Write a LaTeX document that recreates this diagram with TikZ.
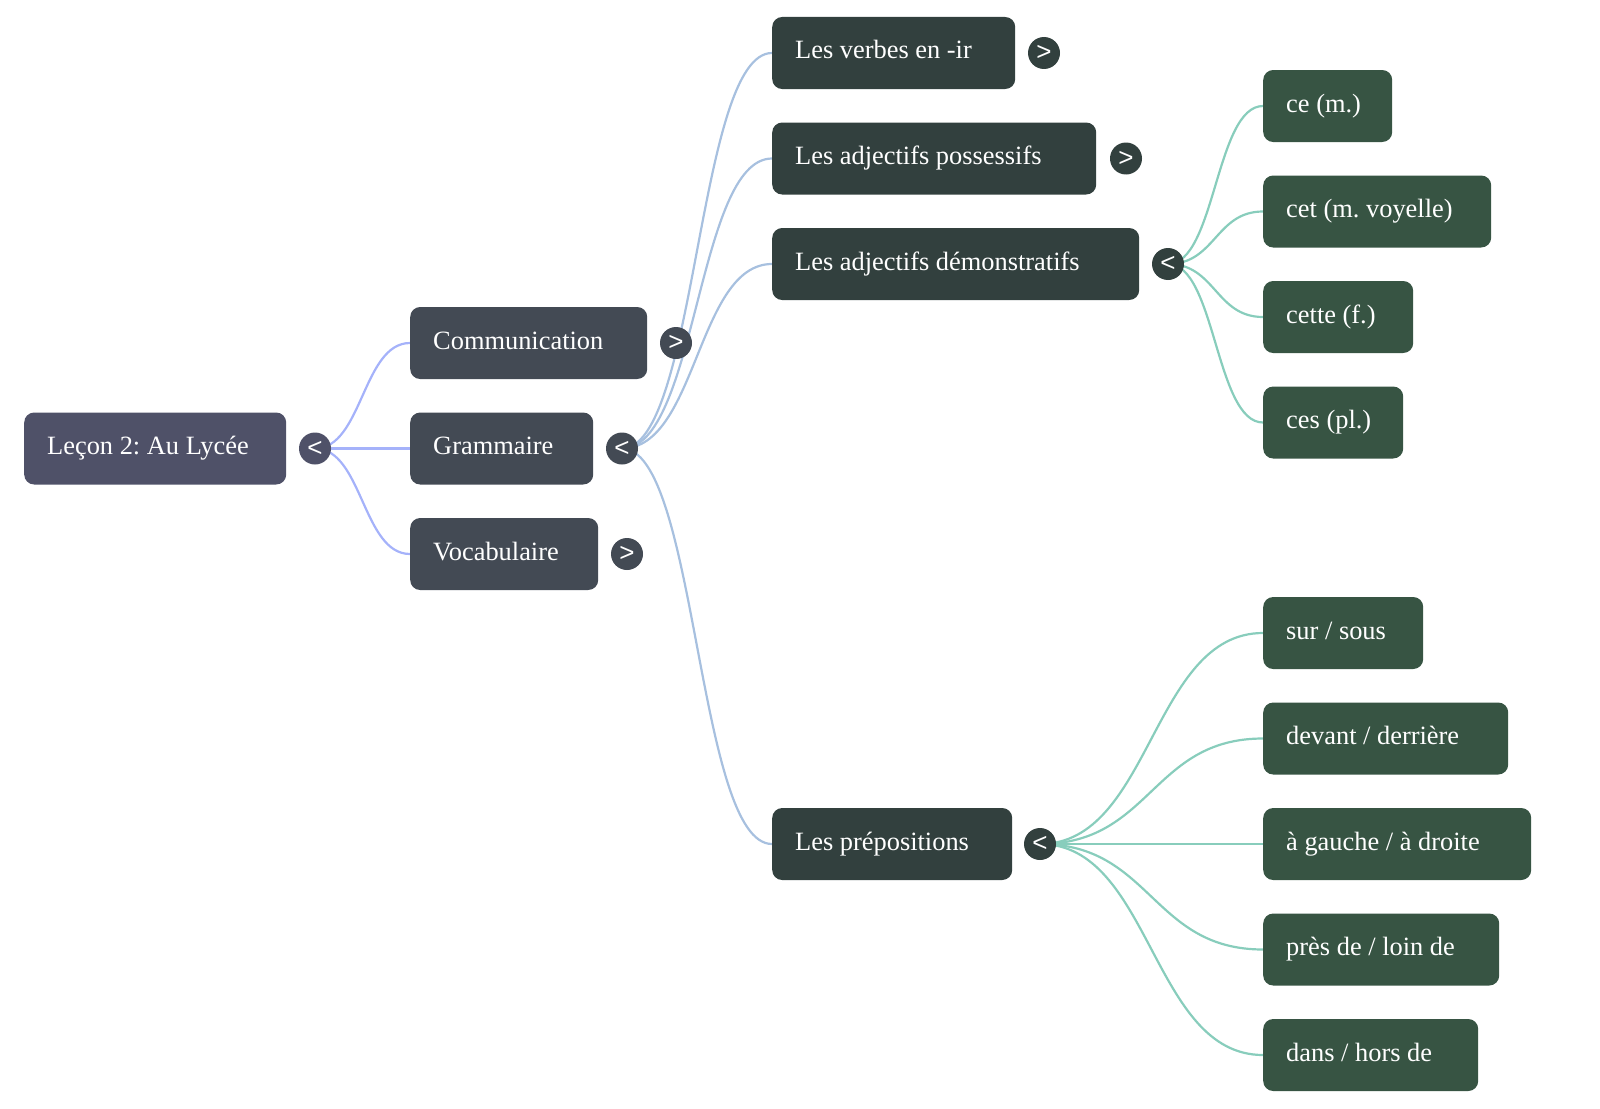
\documentclass[tikz,border=0pt]{standalone}
\usepackage{fontspec}
\setmainfont{Liberation Serif}
\newfontfamily\symfont{Liberation Sans}
\usetikzlibrary{calc}
\setlength\parindent{0pt}
\frenchspacing
\pgfdeclarelayer{bg}
\pgfsetlayers{bg,main}
\definecolor{rootfill}{HTML}{4F5168}
\definecolor{lvlone}{HTML}{434A54}
\definecolor{lvltwo}{HTML}{32403E}
\definecolor{leaffill}{HTML}{375443}
\definecolor{edgeroot}{HTML}{A5B2FA}
\definecolor{edgegram}{HTML}{A7C0DF}
\definecolor{edgeleaf}{HTML}{88CDBC}
\tikzset{
  box/.style={rounded corners=10pt, anchor=west, minimum height=72pt,
    inner xsep=23pt, align=flush left, text=white,
    font=\frenchspacing\fontsize{26.4}{30}\selectfont, text height=19pt, text depth=7pt},
  bw/.style={text width=#1pt-46pt},
  rootbox/.style={box, fill=rootfill},
  onebox/.style={box, fill=lvlone},
  twobox/.style={box, fill=lvltwo},
  leafbox/.style={box, fill=leaffill},
  knob/.style={circle, fill=#1, minimum size=32pt, inner sep=0pt, text=white,
    font=\symfont\fontsize{26}{26}\selectfont},
  link/.style={to path={let \p1=(\tikztostart), \p2=(\tikztotarget) in
    .. controls ({(\x1+\x2)/2},\y1) and ({(\x1+\x2)/2},\y2) .. (\tikztotarget)}},
  eroot/.style={draw=edgeroot, line width=2.2pt},
  egram/.style={draw=edgegram, line width=2.2pt},
  eleaf/.style={draw=edgeleaf, line width=2.2pt},
}
\begin{document}
\begin{tikzpicture}[x=1pt,y=-1pt]
\useasboundingbox (0,0) rectangle (1600,1108);
% root
\node[rootbox, bw=262] (root) at (24,448.5) {Leçon 2: Au Lycée};
\node[knob=rootfill] (rk) at (315,448.5) {<};
% level 1
\node[onebox, bw=237] (comm) at (410,343) {Communication};
\node[knob=lvlone] (ck) at (676,343) {>};
\node[onebox, bw=183] (gram) at (410,448.5) {Grammaire};
\node[knob=lvlone] (gk) at (622,448.5) {<};
\node[onebox, bw=188] (voc) at (410,554) {Vocabulaire};
\node[knob=lvlone] (vk) at (627,554) {>};
% level 2
\node[twobox, bw=243] (verb) at (772,53) {Les verbes en -ir};
\node[knob=lvltwo] (verbk) at (1044,53) {>};
\node[twobox, bw=324] (poss) at (772,158.5) {Les adjectifs possessifs};
\node[knob=lvltwo] (possk) at (1126,158.5) {>};
\node[twobox, bw=367] (dem) at (772,264) {Les adjectifs démonstratifs};
\node[knob=lvltwo] (demk) at (1168,264) {<};
\node[twobox, bw=240] (prep) at (772,844) {Les prépositions};
\node[knob=lvltwo] (prepk) at (1040,844) {<};
% leaves
\node[leafbox, bw=129] (ce) at (1263,106) {ce (m.)};
\node[leafbox, bw=228] (cet) at (1263,211.5) {cet (m. voyelle)};
\node[leafbox, bw=150] (cette) at (1263,317) {cette (f.)};
\node[leafbox, bw=140] (ces) at (1263,422.5) {ces (pl.)};
\node[leafbox, bw=160] (sur) at (1263,633) {sur / sous};
\node[leafbox, bw=245] (dev) at (1263,738.5) {devant / derrière};
\node[leafbox, bw=268] (gau) at (1263,844) {à gauche / à droite};
\node[leafbox, bw=236] (pres) at (1263,949.5) {près de / loin de};
\node[leafbox, bw=215] (dans) at (1263,1055) {dans / hors de};
% connectors
\begin{pgfonlayer}{bg}
\draw[eroot] (rk.center) to[link] (comm.west);
\draw[eroot] (rk.center) to[link] (gram.west);
\draw[eroot] (rk.center) to[link] (voc.west);
\draw[egram] (gk.center) to[link] (verb.west);
\draw[egram] (gk.center) to[link] (poss.west);
\draw[egram] (gk.center) to[link] (dem.west);
\draw[egram] (gk.center) to[link] (prep.west);
\draw[eleaf] (demk.center) to[link] (ce.west);
\draw[eleaf] (demk.center) to[link] (cet.west);
\draw[eleaf] (demk.center) to[link] (cette.west);
\draw[eleaf] (demk.center) to[link] (ces.west);
\draw[eleaf] (prepk.center) to[link] (sur.west);
\draw[eleaf] (prepk.center) to[link] (dev.west);
\draw[eleaf] (prepk.center) to[link] (gau.west);
\draw[eleaf] (prepk.center) to[link] (pres.west);
\draw[eleaf] (prepk.center) to[link] (dans.west);
\end{pgfonlayer}
\end{tikzpicture}
\end{document}
